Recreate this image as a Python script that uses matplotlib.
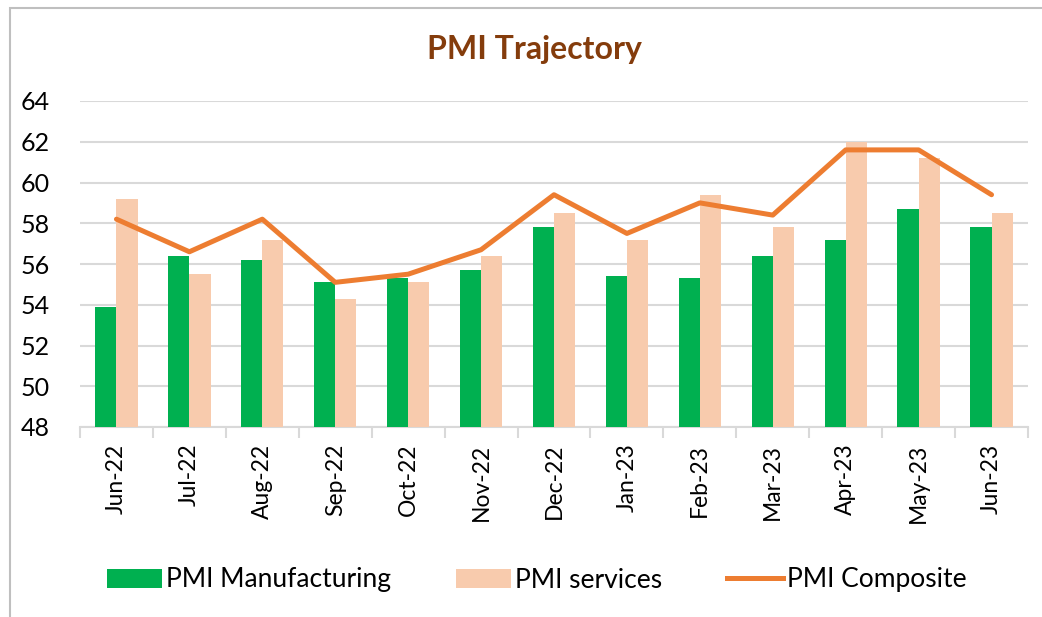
import matplotlib
matplotlib.use("Agg")
import matplotlib.pyplot as plt
import numpy as np
from matplotlib.patches import Rectangle
from matplotlib.lines import Line2D
from matplotlib.patches import Patch

months = ["Jun-22", "Jul-22", "Aug-22", "Sep-22", "Oct-22", "Nov-22", "Dec-22",
          "Jan-23", "Feb-23", "Mar-23", "Apr-23", "May-23", "Jun-23"]
pmi_manufacturing = [53.9, 56.4, 56.2, 55.1, 55.3, 55.7, 57.8, 55.4, 55.3, 56.4, 57.2, 58.7, 57.8]
pmi_services = [59.2, 55.5, 57.2, 54.3, 55.1, 56.4, 58.5, 57.2, 59.4, 57.8, 62.0, 61.2, 58.5]
pmi_composite = [58.2, 56.6, 58.2, 55.1, 55.5, 56.7, 59.4, 57.5, 59.0, 58.4, 61.6, 61.6, 59.4]
y_ticks = [48, 50, 52, 54, 56, 58, 60, 62, 64]

GREEN = "#00B050"
PEACH = "#F8CBAD"
ORANGE = "#ED7D31"
TITLE = "#843C0C"
GRID = "#D9D9D9"

plt.rcParams['font.family'] = ['Lato', 'DejaVu Sans']

fig = plt.figure(figsize=(10.42, 6.17), dpi=100)
fig.patches.append(Rectangle((10/1042, -0.1), 1.2, 1 - 8/617 + 0.1, transform=fig.transFigure,
                             fill=False, edgecolor="#BFBFBF", linewidth=1.5))
ax = fig.add_axes([80/1042, 1 - 427/617, (1028-80)/1042, (427-101)/617])

x = np.arange(len(months))
w = 0.29
ax.bar(x - w/2, [v - 48 for v in pmi_manufacturing], width=w, bottom=48, color=GREEN, zorder=2)
ax.bar(x + w/2, [v - 48 for v in pmi_services], width=w, bottom=48, color=PEACH, zorder=2)
ax.plot(x, pmi_composite, color=ORANGE, linewidth=3.6, zorder=3, solid_joinstyle='round', solid_capstyle='round')

ax.set_xlim(-0.5, len(months) - 0.5)
ax.set_ylim(48, 64)
ax.set_yticks(y_ticks)
ax.yaxis.grid(True, color=GRID, linewidth=1.5, zorder=0)
ax.set_axisbelow(True)
for s in ["left", "right", "top"]:
    ax.spines[s].set_visible(False)
ax.spines["bottom"].set_color(GRID)
ax.spines["bottom"].set_linewidth(1.5)
ax.spines["bottom"].set_zorder(1)

ax.set_xticks(x)
ax.set_xticklabels(months, rotation=90, fontsize=16.5)
ax.set_xticks(np.arange(-0.5, len(months)), minor=True)
ax.tick_params(axis="x", which="major", length=0, pad=12)
ax.tick_params(axis="x", which="minor", length=8, width=1.5, color=GRID, direction="out")
ax.tick_params(axis="y", length=0, pad=22, labelsize=18)

fig.text(0.513, 1 - 50/617, "PMI Trajectory", ha="center", va="center",
         fontsize=23, fontweight="bold", color=TITLE)

handles = [Patch(facecolor=GREEN, edgecolor="none"),
           Patch(facecolor=PEACH, edgecolor="none"),
           Line2D([0], [0], color=ORANGE, linewidth=3.6)]
fig.legend(handles, ["PMI Manufacturing", "PMI services", "PMI Composite"],
           loc="center", bbox_to_anchor=(0.515, 1 - 580/617), ncol=3, frameon=False,
           fontsize=19, handlelength=2.1, handletextpad=0.15, columnspacing=2.45,
           handleheight=0.75)

fig.savefig("out.png", dpi=100, facecolor="white")
